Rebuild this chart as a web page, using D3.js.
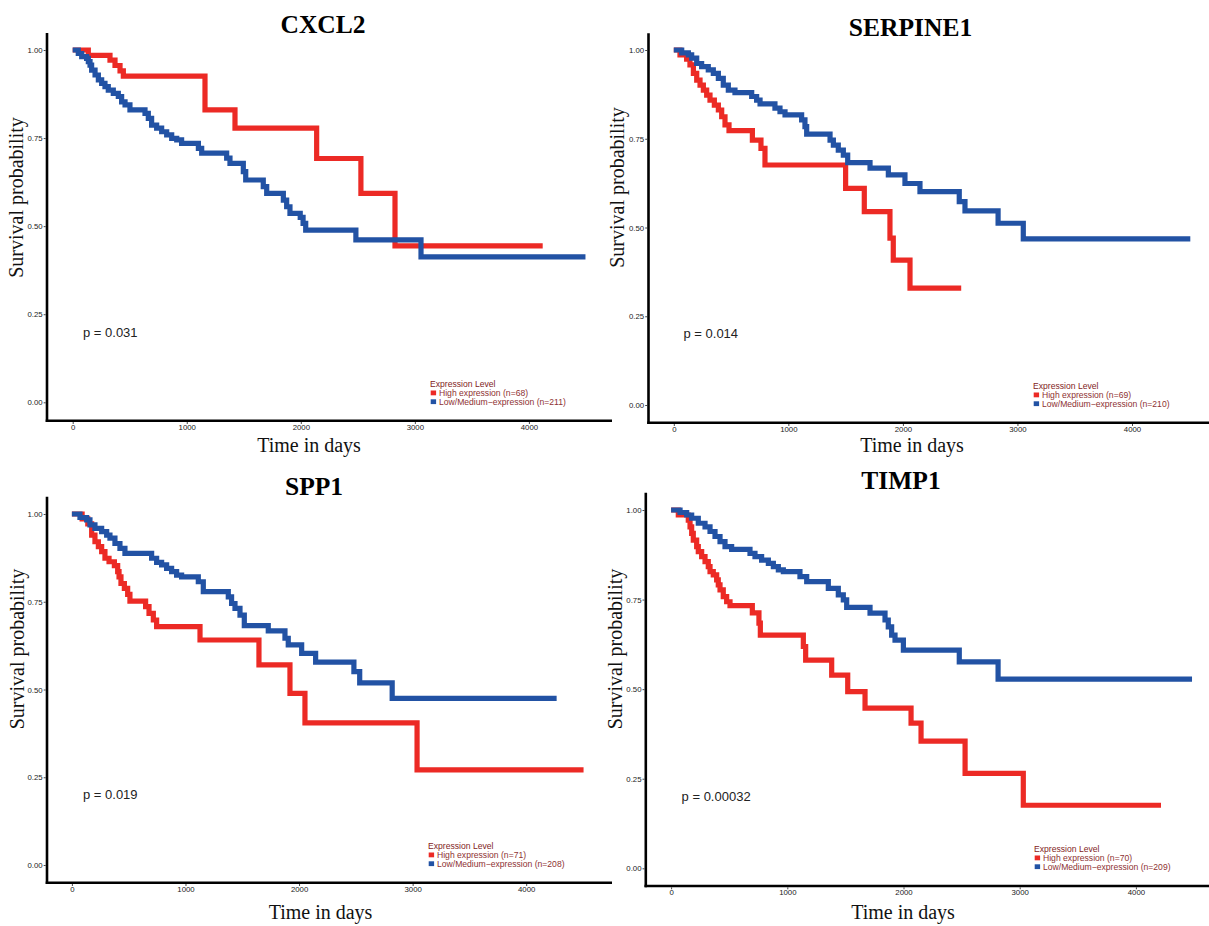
<!DOCTYPE html>
<html><head><meta charset="utf-8">
<script src="https://cdn.jsdelivr.net/npm/d3@7"></script>
<style>body{margin:0;background:#fff}svg{display:block}</style>
</head><body>
<svg id="chart" width="1209" height="926"></svg>
<script>
// ---------------- data ----------------
const genes = ["CXCL2", "SERPINE1", "SPP1", "TIMP1"];
const pValues = ["p = 0.031", "p = 0.014", "p = 0.019", "p = 0.00032"];
const highN = [68, 69, 71, 70];
const lowN = [211, 210, 208, 209];
const xTicks = [0, 1000, 2000, 3000, 4000];
const yTicks = [0, 0.25, 0.5, 0.75, 1];
const legendTitle = "Expression Level";
const xTitle = "Time in days";
const yTitle = "Survival probability";

// [day, survival] — Kaplan–Meier steps (last point = end of follow-up)
const cxcl2High = [[0,1],[137,0.985],[327,0.971],[371,0.956],[415,0.941],[444,0.926],[1160,0.83],[1423,0.778],[2139,0.692],[2527,0.593],[2826,0.444],[4121,0.444]];
const cxcl2Low = [[0,1],[49,0.990],[79,0.981],[122,0.976],[137,0.967],[152,0.957],[166,0.943],[196,0.929],[225,0.915],[254,0.905],[283,0.896],[312,0.886],[356,0.877],[400,0.868],[429,0.853],[459,0.844],[502,0.830],[634,0.820],[663,0.806],[692,0.787],[736,0.778],[780,0.768],[824,0.759],[868,0.749],[912,0.745],[955,0.735],[1102,0.721],[1131,0.707],[1350,0.693],[1379,0.678],[1496,0.655],[1517,0.631],[1671,0.612],[1701,0.593],[1847,0.574],[1876,0.555],[1905,0.536],[1995,0.525],[2020,0.508],[2043,0.489],[2483,0.461],[3054,0.413],[4496,0.413]];

const serpine1High = [[0,1],[54,0.986],[112,0.974],[141,0.958],[171,0.934],[200,0.915],[229,0.901],[258,0.887],[287,0.873],[316,0.859],[354,0.845],[389,0.831],[418,0.812],[447,0.789],[482,0.773],[686,0.746],[761,0.723],[796,0.676],[1500,0.610],[1663,0.545],[1887,0.470],[1916,0.408],[2062,0.329],[2509,0.329]];
const serpine1Low = [[0,1],[69,0.992],[127,0.986],[156,0.977],[200,0.962],[243,0.953],[301,0.944],[345,0.934],[389,0.920],[432,0.901],[476,0.887],[534,0.880],[680,0.869],[723,0.859],[753,0.848],[883,0.836],[927,0.826],[971,0.817],[1116,0.803],[1145,0.784],[1160,0.763],[1364,0.746],[1393,0.732],[1436,0.718],[1480,0.704],[1518,0.683],[1713,0.667],[1873,0.648],[2018,0.624],[2149,0.601],[2492,0.573],[2542,0.547],[2831,0.512],[3051,0.468],[4509,0.468]];

const spp1High = [[0,1],[90,0.986],[140,0.972],[174,0.940],[203,0.921],[233,0.907],[262,0.893],[291,0.874],[327,0.864],[374,0.853],[403,0.836],[415,0.821],[432,0.802],[462,0.788],[491,0.771],[511,0.752],[649,0.736],[679,0.717],[717,0.698],[746,0.679],[1128,0.641],[1647,0.570],[1920,0.489],[2052,0.405],[3039,0.271],[4505,0.271]];
const spp1Low = [[0,1],[71,0.990],[130,0.983],[159,0.969],[203,0.959],[262,0.950],[306,0.940],[335,0.931],[379,0.916],[423,0.902],[467,0.888],[702,0.874],[746,0.862],[790,0.855],[834,0.845],[878,0.836],[922,0.826],[966,0.821],[1113,0.807],[1157,0.779],[1377,0.764],[1406,0.745],[1436,0.731],[1480,0.712],[1518,0.682],[1729,0.667],[1876,0.646],[1905,0.627],[2023,0.603],[2146,0.578],[2483,0.551],[2534,0.519],[2820,0.475],[4268,0.475]];

const timp1High = [[0,1],[62,0.986],[148,0.972],[163,0.953],[177,0.935],[191,0.916],[220,0.898],[234,0.884],[263,0.870],[292,0.856],[320,0.842],[335,0.828],[363,0.819],[392,0.805],[406,0.791],[421,0.777],[449,0.758],[478,0.744],[507,0.733],[699,0.713],[756,0.684],[768,0.651],[1138,0.619],[1158,0.581],[1382,0.539],[1520,0.493],[1669,0.447],[2065,0.405],[2151,0.355],[2530,0.265],[3031,0.176],[4216,0.176]];
const timp1Low = [[0,1],[77,0.993],[134,0.986],[177,0.977],[234,0.963],[292,0.953],[335,0.940],[378,0.926],[421,0.912],[464,0.898],[521,0.890],[679,0.879],[722,0.870],[779,0.860],[837,0.851],[880,0.842],[923,0.833],[966,0.828],[1109,0.814],[1167,0.800],[1353,0.781],[1439,0.763],[1482,0.749],[1511,0.728],[1712,0.712],[1841,0.693],[1869,0.674],[1898,0.651],[1927,0.637],[1999,0.609],[2480,0.576],[2814,0.528],[4483,0.528]];

const highSeries = [cxcl2High, serpine1High, spp1High, timp1High];
const lowSeries = [cxcl2Low, serpine1Low, spp1Low, timp1Low];

// ---------------- layout ----------------
const RED = "#ec2a25", BLUE = "#2252a4", LEG = "#8e3232";
const layouts = [
  {x0:72.7, x4:528.9, y1:50, y0:402.3, axX:47, axTop:33, axY:420.7, axRight:612, titleX:323, titleY:33, ytX:23, ytY:197.5, xtX:309, xtY:452, pX:83, pY:336.5, legX:430, legY:387},
  {x0:673.8, x4:1132, y1:50, y0:405, axX:648.5, axTop:33.3, axY:422.7, axRight:1209, titleX:910.5, titleY:36, ytX:623.5, ytY:187.5, xtX:912, xtY:452, pX:683.5, pY:338, legX:1033, legY:389},
  {x0:71.9, x4:526.2, y1:514, y0:865, axX:47, axTop:496.7, axY:882.7, axRight:612, titleX:314, titleY:495, ytX:23.5, ytY:649, xtX:320.5, xtY:919, pX:83, pY:799, legX:428, legY:849},
  {x0:671.1, x4:1135.9, y1:510, y0:868.3, axX:645.8, axTop:492.7, axY:886, axRight:1209, titleX:901, titleY:488.5, ytX:621.5, ytY:649, xtX:903, xtY:919, pX:681.6, pY:801, legX:1034, legY:852}
];

const svg = d3.select("#chart");

genes.forEach((gene, i) => {
  const L = layouts[i];
  const x = d3.scaleLinear().domain([0, 4000]).range([L.x0, L.x4]);
  const y = d3.scaleLinear().domain([0, 1]).range([L.y0, L.y1]);
  const g = svg.append("g");

  // axes lines
  g.append("line").attr("x1", L.axX).attr("x2", L.axX).attr("y1", L.axTop).attr("y2", L.axY + 1.2)
    .attr("stroke", "#000").attr("stroke-width", 2.6);
  g.append("line").attr("x1", L.axX - 1.3).attr("x2", L.axRight).attr("y1", L.axY).attr("y2", L.axY)
    .attr("stroke", "#000").attr("stroke-width", 2.6);

  // y axis ticks
  const ya = g.append("g").attr("transform", `translate(${L.axX - 1.3},0)`)
    .call(d3.axisLeft(y).tickValues(yTicks).tickFormat(d3.format(".2f")).tickSize(2).tickPadding(1));
  ya.select(".domain").remove();
  ya.selectAll(".tick line").attr("stroke", "#333").attr("stroke-width", 0.9);
  ya.selectAll(".tick text").attr("font-family", "Liberation Sans, Arial, sans-serif")
    .attr("font-size", 7.8).attr("fill", "#222");

  // x axis ticks
  const xa = g.append("g").attr("transform", `translate(0,${L.axY + 1.3})`)
    .call(d3.axisBottom(x).tickValues(xTicks).tickFormat(d3.format("d")).tickSize(2).tickPadding(0.3));
  xa.select(".domain").remove();
  xa.selectAll(".tick line").attr("stroke", "#333").attr("stroke-width", 0.9);
  xa.selectAll(".tick text").attr("font-family", "Liberation Sans, Arial, sans-serif")
    .attr("font-size", 7.8).attr("fill", "#222");

  // curves
  const line = d3.line().x(d => x(d[0])).y(d => y(d[1])).curve(d3.curveStepAfter);
  [[highSeries[i], RED], [lowSeries[i], BLUE]].forEach(([data, col]) => {
    g.append("path").datum(data).attr("d", line).attr("fill", "none")
      .attr("stroke", col).attr("stroke-width", 5.2).attr("stroke-linejoin", "miter")
      .attr("stroke-linecap", "butt");
  });

  // titles
  g.append("text").attr("x", L.titleX).attr("y", L.titleY).attr("text-anchor", "middle")
    .attr("font-family", "Liberation Serif, Times New Roman, serif").attr("font-weight", "bold")
    .attr("font-size", 25.5).attr("fill", "#000").text(gene);
  g.append("text").attr("transform", `translate(${L.ytX},${L.ytY}) rotate(-90)`).attr("text-anchor", "middle")
    .attr("font-family", "Liberation Serif, Times New Roman, serif").attr("font-size", 20)
    .attr("fill", "#111").text(yTitle);
  g.append("text").attr("x", L.xtX).attr("y", L.xtY).attr("text-anchor", "middle")
    .attr("font-family", "Liberation Serif, Times New Roman, serif").attr("font-size", 20)
    .attr("fill", "#111").text(xTitle);

  // p-value
  g.append("text").attr("x", L.pX).attr("y", L.pY)
    .attr("font-family", "Liberation Sans, Arial, sans-serif").attr("font-size", 13)
    .attr("fill", "#222").text(pValues[i]);

  // legend
  const lg = g.append("g").attr("font-family", "Liberation Sans, Arial, sans-serif").attr("font-size", 8.6);
  lg.append("text").attr("x", L.legX).attr("y", L.legY).attr("fill", "#7f2424").text(legendTitle);
  const items = [[`High expression (n=${highN[i]})`, RED], [`Low/Medium\u2212expression (n=${lowN[i]})`, BLUE]];
  items.forEach(([label, col], k) => {
    const by = L.legY + 8.8 * (k + 1);
    lg.append("rect").attr("x", L.legX + 0.7).attr("y", by - 5.3).attr("width", 5.4).attr("height", 4.8).attr("fill", col);
    lg.append("text").attr("x", L.legX + 9).attr("y", by).attr("fill", LEG).text(label);
  });
});
</script>
</body></html>
